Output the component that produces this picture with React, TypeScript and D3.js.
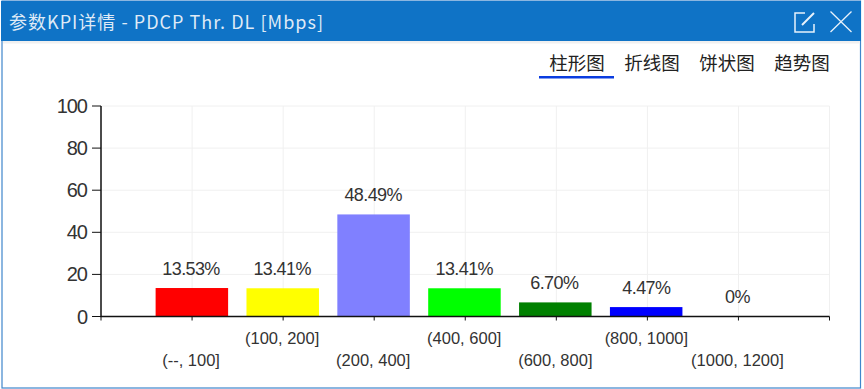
import React from "react";
import * as d3 from "d3";

const categories = ["(--, 100]", "(100, 200]", "(200, 400]", "(400, 600]", "(600, 800]", "(800, 1000]", "(1000, 1200]"];
const values = [13.53, 13.41, 48.49, 13.41, 6.7, 4.47, 0];
const valueLabels = ["13.53%", "13.41%", "48.49%", "13.41%", "6.70%", "4.47%", "0%"];
const barColors = ["#ff0000", "#ffff00", "#8080ff", "#00ff00", "#008000", "#0000ff", "#ffffff"];
const yTicks = [0, 20, 40, 60, 80, 100];
const tabs = ["柱形图", "折线图", "饼状图", "趋势图"];
const tabCenters = [577, 652, 727, 802];
const title = "参数KPI详情 - PDCP Thr. DL [Mbps]";

const W = 864, H = 389;
const x = d3.scaleLinear().domain([0, 8]).range([101, 829.5]);
const y = d3.scaleLinear().domain([0, 100]).range([316.5, 106]);
const latin = "'Liberation Sans', Arial, sans-serif";
const cjk = "'Noto Sans CJK SC', 'Liberation Sans', sans-serif";
const textColor = "#333";

export default function App() {
  const gridXs = d3.range(1, 9);
  const tickXs = d3.range(0, 9);
  const barW = 72.5;
  return (
    <svg width={W} height={H} viewBox={`0 0 ${W} ${H}`} style={{ position: "fixed", left: 0, top: 0, display: "block", background: "#fff" }}>
      <rect x={0} y={0} width={W} height={H} fill="#fff" />
      <rect x={2} y={1} width={858.5} height={387} fill="#fff" stroke="#3f86cc" strokeWidth={1.2} />
      <rect x={1} y={1} width={860} height={40} fill="#0f73c6" />
      <rect x={3} y={41} width={857} height={2.5} fill="#f0f0f0" />
      <text x={9} y={29} textLength={314} lengthAdjust="spacing" fontFamily={cjk} fontSize={18} fill="#dfeaf6">{title}</text>
      <path d="M814 24 V32 H795 V13 H805" fill="none" stroke="#e8f2fb" strokeWidth={1.5} />
      <path d="M802 25 L814 13" fill="none" stroke="#e8f2fb" strokeWidth={2} />
      <path d="M830.5 11.5 L851.5 32 M851.5 11.5 L830.5 32" stroke="#e8f2fb" strokeWidth={1.3} fill="none" />
      {tabs.map((t, i) => (
        <text key={t} x={tabCenters[i]} y={70} textAnchor="middle" fontFamily={cjk} fontSize={18.5} fill="#222">{t}</text>
      ))}
      <rect x={539} y={76} width={75} height={2.5} fill="#0a3ce0" />
      {yTicks.filter((t) => t > 0).map((t) => (
        <line key={t} x1={x(0)} x2={x(8)} y1={y(t)} y2={y(t)} stroke="#f0f0f0" />
      ))}
      {gridXs.map((i) => (
        <line key={i} x1={x(i)} x2={x(i)} y1={y(100)} y2={y(0)} stroke="#f0f0f0" />
      ))}
      {values.map((v, i) => (
        <rect key={categories[i]} x={x(i + 1) - barW / 2 - 0.2 - 0.2 * i} y={y(v)} width={barW} height={y(0) - y(v)} fill={barColors[i]} />
      ))}
      <path d={`M${x(0)} ${y(100)} V${y(0)} H${x(8)}`} fill="none" stroke="#111" strokeWidth={1.5} />
      {yTicks.map((t) => (
        <g key={t}>
          <line x1={x(0) - 9} x2={x(0)} y1={y(t)} y2={y(t)} stroke="#111" strokeWidth={1} />
          <text x={x(0) - 14} y={y(t) + 7} textAnchor="end" fontFamily={latin} fontSize={20} letterSpacing={-1} fill={textColor}>{t}</text>
        </g>
      ))}
      {tickXs.map((i) => (
        <line key={i} x1={x(i)} x2={x(i)} y1={y(0)} y2={y(0) + 4} stroke="#111" strokeWidth={1} />
      ))}
      {values.map((v, i) => (
        <text key={i} x={x(i + 1) - 1 - (i === 4 ? 1 : 0)} y={y(v) - 13.5} textAnchor="middle" fontFamily={latin} fontSize={18} letterSpacing={-0.6} fill={textColor}>{valueLabels[i]}</text>
      ))}
      {categories.map((c, i) => (
        <text key={c} x={x(i + 1) - 1} y={i % 2 === 1 ? 344 : 366} textAnchor="middle" fontFamily={latin} fontSize={16.5} fill={textColor}>{c}</text>
      ))}
    </svg>
  );
}
